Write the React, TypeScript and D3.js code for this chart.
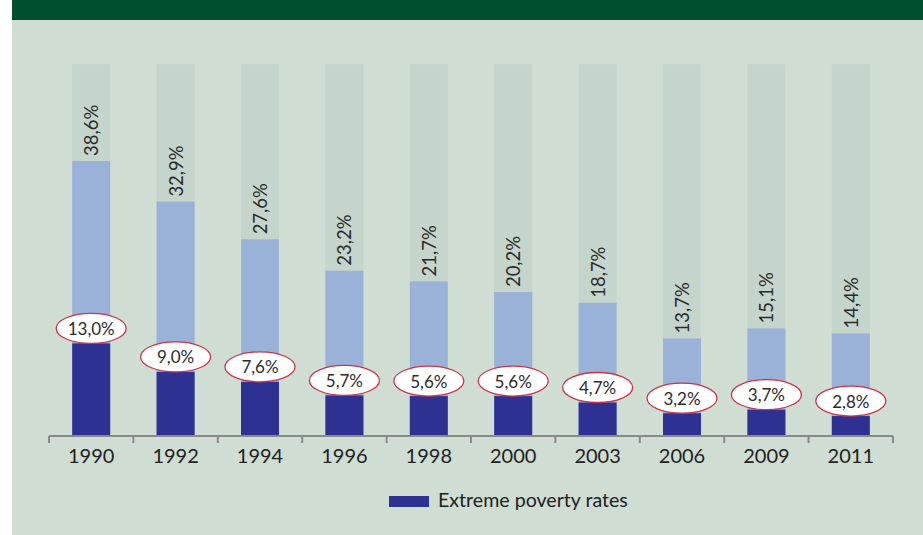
import { useRef, useEffect } from 'react';
import * as d3 from 'd3';

const years = ['1990', '1992', '1994', '1996', '1998', '2000', '2003', '2006', '2009', '2011'];
const povertyRates = [38.6, 32.9, 27.6, 23.2, 21.7, 20.2, 18.7, 13.7, 15.1, 14.4];
const extremeRates = [13.0, 9.0, 7.6, 5.7, 5.6, 5.6, 4.7, 3.2, 3.7, 2.8];
const backdropValue = 52.2;

const W = 923;
const H = 535;
const fmt = (v: number) => v.toFixed(1).replace('.', ',') + '%';

export default function App() {
  const svgRef = useRef<SVGSVGElement>(null);

  useEffect(() => {
    const svg = d3.select(svgRef.current);
    svg.selectAll('*').remove();
    svg.attr('width', W).attr('height', H);

    const font = 'Lato, "Open Sans", sans-serif';

    // page backgrounds
    svg.append('rect').attr('x', 12).attr('y', 0).attr('width', W - 12).attr('height', H).attr('fill', '#cfddd3');
    svg.append('rect').attr('x', 12).attr('y', 0).attr('width', W - 12).attr('height', 20).attr('fill', '#005030');

    const x = d3.scaleBand().domain(years).range([49, 893]).paddingInner(0.55).paddingOuter(0.275);
    const y = d3.scaleLinear().domain([0, 38.6]).range([436, 161]);

    const g = svg.append('g');

    // grey backdrop bars
    g.selectAll('rect.bg')
      .data(years)
      .join('rect')
      .attr('class', 'bg')
      .attr('x', (d) => x(d)!)
      .attr('width', x.bandwidth())
      .attr('y', y(backdropValue))
      .attr('height', y(0) - y(backdropValue))
      .attr('fill', '#c5d5cb');

    g.selectAll('rect.pov')
      .data(years)
      .join('rect')
      .attr('class', 'pov')
      .attr('x', (d) => x(d)!)
      .attr('width', x.bandwidth())
      .attr('y', (_, i) => y(povertyRates[i]))
      .attr('height', (_, i) => y(0) - y(povertyRates[i]))
      .attr('fill', '#9bb2d8');

    g.selectAll('rect.ext')
      .data(years)
      .join('rect')
      .attr('class', 'ext')
      .attr('x', (d) => x(d)!)
      .attr('width', x.bandwidth())
      .attr('y', (_, i) => y(extremeRates[i]))
      .attr('height', (_, i) => y(0) - y(extremeRates[i]))
      .attr('fill', '#2e3192');

    // rotated total labels
    g.selectAll('text.pov')
      .data(years)
      .join('text')
      .attr('class', 'pov')
      .attr('transform', (d, i) => `translate(${x(d)! + x.bandwidth() / 2},${y(povertyRates[i]) - 5}) rotate(-90)`)
      .attr('dominant-baseline', 'central')
      .attr('font-family', font)
      .attr('font-size', 18.5)
      .attr('fill', '#2b2b2b')
      .text((_, i) => fmt(povertyRates[i]));

    // ellipse labels for extreme poverty
    const lab = g.selectAll('g.lab')
      .data(years)
      .join('g')
      .attr('class', 'lab')
      .attr('transform', (d, i) => `translate(${x(d)! + x.bandwidth() / 2},${y(extremeRates[i]) - 15})`);
    lab.append('ellipse')
      .attr('rx', 35)
      .attr('ry', 15)
      .attr('fill', '#ffffff')
      .attr('stroke', '#c8364a')
      .attr('stroke-width', 1.3);
    lab.append('text')
      .attr('text-anchor', 'middle')
      .attr('dominant-baseline', 'central')
      .attr('font-family', font)
      .attr('font-size', 17)
      .attr('fill', '#2b2b2b')
      .text((_, i) => fmt(extremeRates[i]));

    // x axis
    const axis = svg.append('g');
    axis.append('line')
      .attr('x1', 49).attr('x2', 893)
      .attr('y1', 436).attr('y2', 436)
      .attr('stroke', '#8a8a8a').attr('stroke-width', 2);
    const ticks = years.map((d) => x(d)! - (x.step() - x.bandwidth()) / 2).concat([893]);
    axis.selectAll('line.tick')
      .data(ticks)
      .join('line')
      .attr('class', 'tick')
      .attr('x1', (d) => d).attr('x2', (d) => d)
      .attr('y1', 436).attr('y2', 443)
      .attr('stroke', '#8a8a8a').attr('stroke-width', 2);
    axis.selectAll('text')
      .data(years)
      .join('text')
      .attr('x', (d) => x(d)! + x.bandwidth() / 2)
      .attr('y', 463)
      .attr('text-anchor', 'middle')
      .attr('font-family', font)
      .attr('font-size', 20)
      .attr('fill', '#222')
      .text((d) => d);

    // legend
    const leg = svg.append('g');
    leg.append('rect').attr('x', 389).attr('y', 496).attr('width', 40).attr('height', 11).attr('fill', '#2e3192');
    leg.append('text')
      .attr('x', 438).attr('y', 507)
      .attr('font-family', font)
      .attr('font-size', 19.6)
      .attr('fill', '#222')
      .text('Extreme poverty rates');
  }, []);

  return (
    <div style={{ position: 'absolute', left: 0, top: 0 }}>
      <svg ref={svgRef} style={{ display: 'block' }} />
    </div>
  );
}
